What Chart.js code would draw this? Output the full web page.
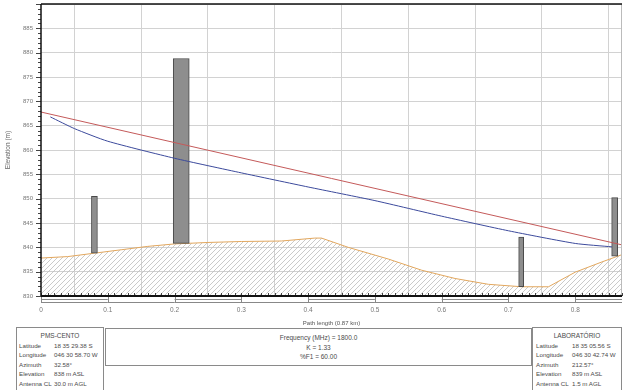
<!DOCTYPE html>
<html>
<head>
<meta charset="utf-8">
<title>Perfil do enlace PMS-CENTO – LABORATÓRIO</title>
<script src="https://cdn.jsdelivr.net/npm/chart.js@4/dist/chart.umd.min.js"></script>
<style>
  html, body { margin: 0; padding: 0; background: #fff; }
  #wrap { position: relative; width: 624px; height: 390px; overflow: hidden; font-family: "Liberation Sans", Arial, sans-serif; color: #4a4a4a; }
  #c { position: absolute; left: 0; top: 0; }
  .box { position: absolute; border: 1px solid #8a8a8a; background: #fff; box-sizing: border-box; font-size: 6.2px; line-height: 9.5px; }
  .site { top: 327px; height: 70px; padding-top: 3px; }
  .site .name { text-align: center; font-size: 6.5px; }
  .site .row { white-space: nowrap; position: relative; height: 9.5px; }
  .site .row span { position: absolute; }
  #left { left: 16px; width: 88px; }
  #left .row span:first-child { left: 2px; }
  #left .row span:last-child { left: 37px; }
  #right { left: 532px; width: 90px; }
  #right .row span:first-child { left: 3px; }
  #right .row span:last-child { left: 39px; }
  #mid { left: 105px; top: 328px; width: 427px; height: 38px; padding-top: 4px; text-align: center; font-size: 6.5px; }
</style>
</head>
<body>
<div id="wrap">
  <canvas id="c" width="624" height="330"></canvas>
  <div class="box site" id="left"></div>
  <div class="box" id="mid"></div>
  <div class="box site" id="right"></div>
</div>
<script>
// Terrain profile along the path (distance in km, elevation in m)
const terrainDist = [0, 0.04, 0.08, 0.12, 0.16, 0.20, 0.25, 0.30, 0.36, 0.41, 0.42, 0.46, 0.52, 0.57, 0.62, 0.67, 0.72, 0.76, 0.80, 0.84, 0.87];
const terrainElev = [837.8, 838.1, 838.8, 839.5, 840.2, 840.7, 841.0, 841.2, 841.3, 841.9, 841.9, 840.0, 837.6, 835.3, 833.6, 832.4, 831.9, 831.9, 834.9, 837.0, 838.5];

// Line of sight between the two antennas
const losDist = [0, 0.87];
const losElev = [867.8, 840.5];

// Lower edge of the 60% first Fresnel zone
const fresnelDist = [0.014, 0.05, 0.10, 0.20, 0.30, 0.40, 0.50, 0.60, 0.70, 0.80, 0.855];
const fresnelElev = [866.8, 864.4, 861.8, 858.3, 855.3, 852.4, 849.6, 846.4, 843.4, 840.8, 840.1];

// Structures along the path: position, base and top elevation
const structDist = [0.080, 0.210, 0.719, 0.859];
const structBase = [838.8, 840.8, 831.9, 838.2];
const structTop  = [850.5, 878.8, 842.1, 850.2];

// Axis ticks
const xTickStep = 0.1;
const yTickStep = 5;
const xRange = [0, 0.87];
const yRange = [830, 890];

// Site panels
const siteA = { name: 'PMS-CENTO', rows: [['Latitude', '18 35 29.38 S'], ['Longitude', '046 30 58.70 W'], ['Azimuth', '32.58°'], ['Elevation', '838 m ASL'], ['Antenna CL', '30.0 m AGL']] };
const siteB = { name: 'LABORATÓRIO', rows: [['Latitude', '18 35 05.56 S'], ['Longitude', '046 30 42.74 W'], ['Azimuth', '212.57°'], ['Elevation', '839 m ASL'], ['Antenna CL', '1.5 m AGL']] };
const linkInfo = ['Frequency (MHz) = 1800.0', 'K = 1.33', '%F1 = 60.00'];

function fillSite(el, site) {
  const n = document.createElement('div');
  n.className = 'name'; n.textContent = site.name; el.appendChild(n);
  site.rows.forEach(([k, v]) => {
    const r = document.createElement('div'); r.className = 'row';
    const a = document.createElement('span'); a.textContent = k;
    const b = document.createElement('span'); b.textContent = v;
    r.appendChild(a); r.appendChild(b); el.appendChild(r);
  });
}
fillSite(document.getElementById('left'), siteA);
fillSite(document.getElementById('right'), siteB);
const mid = document.getElementById('mid');
linkInfo.forEach(t => { const d = document.createElement('div'); d.textContent = t; mid.appendChild(d); });

// Diagonal hatch for the ground
function hatchPattern() {
  const c = document.createElement('canvas');
  c.width = 5; c.height = 5;
  const g = c.getContext('2d');
  g.strokeStyle = '#bdbdbd';
  g.lineWidth = 0.8;
  g.beginPath();
  g.moveTo(0, 5); g.lineTo(5, 0);
  g.moveTo(-1, 1); g.lineTo(1, -1);
  g.moveTo(4, 6); g.lineTo(6, 4);
  g.stroke();
  return g.createPattern(c, 'repeat');
}

const pts = (xs, ys) => xs.map((x, i) => ({ x, y: ys[i] }));
const structWidths = [6, 16, 5, 6];

const structSets = structDist.map((d, i) => ({
  type: 'bar',
  data: [{ x: d, y: [structBase[i], structTop[i]] }],
  backgroundColor: '#8e8e8e',
  borderColor: '#4a4a4a',
  borderWidth: 1,
  borderSkipped: false,
  barThickness: structWidths[i],
  grouped: false,
  order: 2
}));

// Frame, minor ticks and the distance strip under the plot
const framePlugin = {
  id: 'frame',
  afterDatasetsDraw(chart) {
    const { ctx, chartArea: a, scales: { x, y } } = chart;
    const seg = (x1, y1, x2, y2) => { ctx.beginPath(); ctx.moveTo(x1, y1); ctx.lineTo(x2, y2); ctx.stroke(); };
    ctx.save();
    ctx.strokeStyle = '#444';
    ctx.lineWidth = 1;
    for (let v = yRange[0]; v <= yRange[1]; v++) {
      const py = Math.round(y.getPixelForValue(v)) + 0.5;
      const len = v % 5 === 0 ? 5 : 3;
      seg(a.left - len, py, a.left, py);
    }
    for (let i = 0; i <= Math.round(xRange[1] * 100); i++) {
      const px = Math.round(x.getPixelForValue(i / 100)) + 0.5;
      seg(px, a.bottom, px, a.bottom - 3);
    }
    // distance strip
    ctx.strokeStyle = '#888';
    for (let i = 0; i * xTickStep < xRange[1]; i++) {
      const x1 = x.getPixelForValue(i * xTickStep);
      const x2 = x.getPixelForValue(Math.min((i + 1) * xTickStep, xRange[1]));
      if (i % 2 === 0) { seg(x1, a.bottom + 3.5, x2, a.bottom + 3.5); }
      seg(x1, a.bottom + 6.5, x2, a.bottom + 6.5);
      seg(Math.round(x1) + 0.5, a.bottom, Math.round(x1) + 0.5, a.bottom + 7);
    }
    // right border
    ctx.strokeStyle = '#bbb';
    seg(a.right - 0.5, a.top, a.right - 0.5, a.bottom);
    // axes
    ctx.strokeStyle = '#111';
    ctx.lineWidth = 1.5;
    seg(a.left, a.top, a.right, a.top);
    seg(a.left, a.top, a.left, a.bottom);
    ctx.lineWidth = 2;
    seg(a.left, a.bottom, a.right, a.bottom);
    ctx.restore();
  }
};

new Chart(document.getElementById('c'), {
  type: 'line',
  data: {
    datasets: [
      {
        label: 'Terrain',
        data: pts(terrainDist, terrainElev),
        borderColor: '#e2a75e',
        borderWidth: 1,
        backgroundColor: hatchPattern(),
        fill: 'start',
        pointRadius: 0,
        tension: 0,
        order: 3
      },
      ...structSets,
      {
        label: 'Line of sight',
        data: pts(losDist, losElev),
        borderColor: '#c45a5a',
        borderWidth: 1,
        pointRadius: 0,
        fill: false,
        order: 1
      },
      {
        label: '60% F1',
        data: pts(fresnelDist, fresnelElev),
        borderColor: '#3c4a9c',
        borderWidth: 1,
        pointRadius: 0,
        fill: false,
        tension: 0.2,
        order: 1
      }
    ]
  },
  options: {
    responsive: false,
    animation: false,
    devicePixelRatio: 1,
    layout: { padding: { top: 4, right: 2, left: 0, bottom: 0 } },
    plugins: { legend: { display: false }, tooltip: { enabled: false } },
    scales: {
      x: {
        type: 'linear',
        min: xRange[0],
        max: xRange[1],
        offset: false,
        border: { display: false },
        grid: { color: '#d2d2d2', drawTicks: false, tickLength: 0 },
        ticks: {
          stepSize: xTickStep,
          includeBounds: false,
          autoSkip: false,
          maxRotation: 0,
          padding: 10,
          color: '#777',
          font: { family: 'Liberation Sans, Arial', size: 6.5 }
        },
        title: {
          display: true,
          text: 'Path length (0.87 km)',
          color: '#555',
          font: { family: 'Liberation Sans, Arial', size: 6 },
          padding: { top: 0, bottom: 3 }
        },
        afterFit(s) { s.height = 34; s.paddingLeft = 0; s.paddingRight = 0; }
      },
      y: {
        min: yRange[0],
        max: yRange[1],
        border: { display: false },
        grid: { color: '#d2d2d2', drawTicks: false, tickLength: 0 },
        ticks: {
          stepSize: yTickStep,
          padding: 8,
          color: '#777',
          font: { family: 'Liberation Sans, Arial', size: 6 },
          callback: v => (v >= yRange[1] ? '' : v)
        },
        title: {
          display: true,
          text: 'Elevation (m)',
          color: '#666',
          font: { family: 'Liberation Sans, Arial', size: 6.5 },
          padding: { top: 4, bottom: 0 }
        },
        afterFit(s) { s.width = 41; s.paddingTop = 0; s.paddingBottom = 0; }
      }
    }
  },
  plugins: [framePlugin]
});
</script>
</body>
</html>
